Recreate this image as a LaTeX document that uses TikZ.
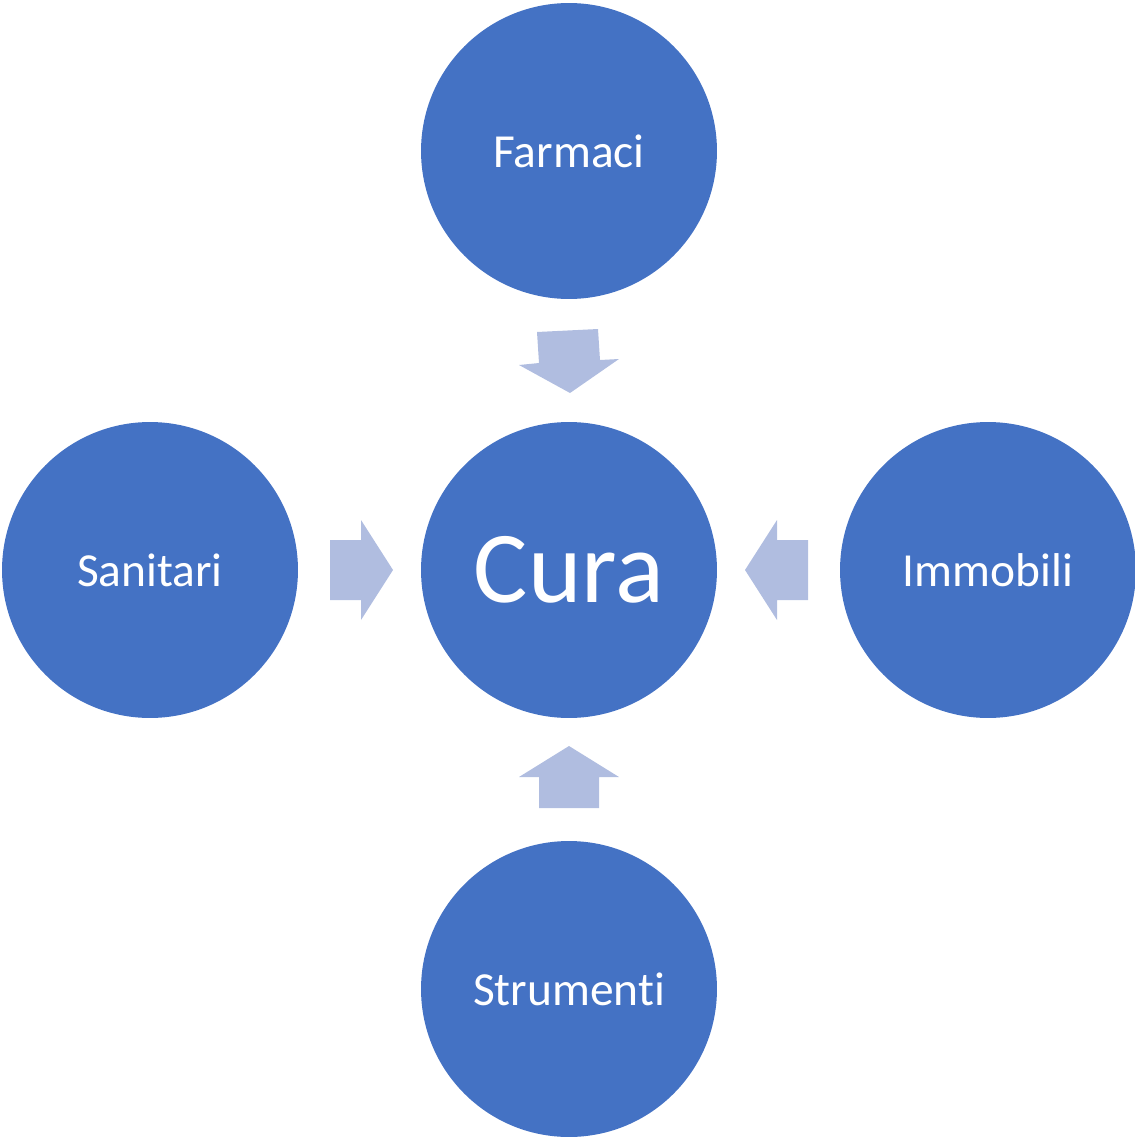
\documentclass[tikz,border=0pt]{standalone}
\usepackage{fontspec}
\setmainfont{Carlito}[Ligatures={NoCommon,NoRequired,NoContextual}]
\definecolor{circleblue}{HTML}{4472C4}
\definecolor{arrowblue}{HTML}{B0BDE0}
\begin{document}
\begin{tikzpicture}[x=0.02cm,y=-0.02cm,
  ball/.style={circle,fill=circleblue,text=white,minimum size=5.92cm,inner sep=0pt,font=\fontsize{27}{30}\selectfont},
  bigball/.style={ball,font=\fontsize{58}{64}\selectfont},
  blockarrow/.style={fill=arrowblue,draw=none}]
  \useasboundingbox (0,0) rectangle (1135,1139);
  \node [bigball] (cura) at (569,570) {Cura};
  \node [ball] (farmaci) at (569,151) {Farmaci};
  \node [ball] (sanitari) at (150,570) {Sanitari};
  \node [ball] (immobili) at (988,570) {Immobili};
  \node [ball] (strumenti) at (569,989) {Strumenti};
  % block arrows pointing at the centre
  \fill [blockarrow] (537,332) -- (598,329) -- (600,360) -- (619,359) -- (570,393)
    -- (519,365) -- (539,363) -- cycle;
  \fill [blockarrow] (330,540) -- (361,540) -- (361,520) -- (393,570) -- (361,620)
    -- (361,600) -- (330,600) -- cycle;
  \fill [blockarrow] (808,540) -- (777,540) -- (777,520) -- (745,570) -- (777,620)
    -- (777,600) -- (808,600) -- cycle;
  \fill [blockarrow] (539,808) -- (539,777) -- (519,777) -- (569,746) -- (619,777)
    -- (599,777) -- (599,808) -- cycle;
\end{tikzpicture}
\end{document}
